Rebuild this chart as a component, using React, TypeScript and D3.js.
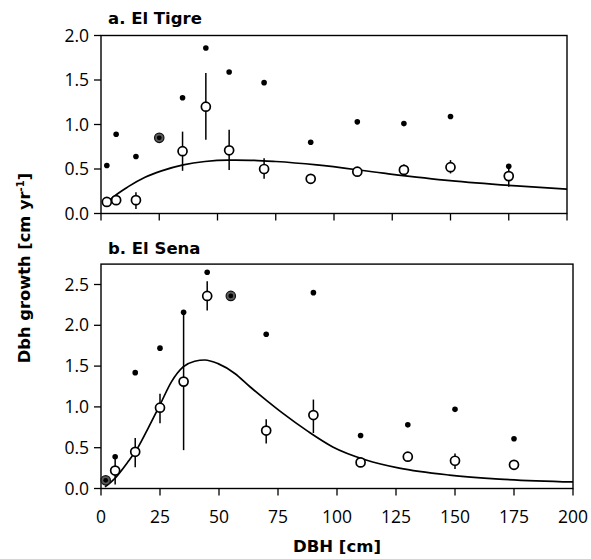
import React from "react";
import * as d3 from "d3";

// ---- Data ----
const dbhA = [2.5, 6.5, 15, 25, 35, 45, 55, 70, 90, 110, 130, 150, 175];
const meanA = [0.13, 0.15, 0.15, 0.85, 0.7, 1.2, 0.71, 0.5, 0.39, 0.47, 0.49, 0.52, 0.42];
const maxA = [0.54, 0.89, 0.64, 0.85, 1.3, 1.86, 1.59, 1.47, 0.8, 1.03, 1.01, 1.09, 0.53];
const errLoA = [0.09, 0.1, 0.05, null, 0.48, 0.83, 0.49, 0.39, null, null, 0.44, 0.45, 0.3];
const errHiA = [0.17, 0.19, 0.24, null, 0.92, 1.58, 0.94, 0.62, null, null, 0.55, 0.6, 0.5];
const curveAx = [2.5, 4.6, 11.7, 18.9, 26, 35.3, 44.6, 54.6, 64, 75, 92.6, 121.2, 149.8, 178.4, 200];
const curveAy = [0.12, 0.171, 0.302, 0.408, 0.479, 0.546, 0.584, 0.6, 0.598, 0.584, 0.546, 0.453, 0.37, 0.31, 0.273];

const dbhB = [2, 6, 14.5, 25, 35, 45, 55, 70, 90, 110, 130, 150, 175];
const meanB = [0.1, 0.22, 0.45, 0.99, 1.31, 2.36, 2.36, 0.71, 0.9, 0.32, 0.39, 0.34, 0.29];
const maxB = [0.1, 0.39, 1.42, 1.72, 2.16, 2.65, 2.36, 1.89, 2.4, 0.65, 0.78, 0.97, 0.61];
const errLoB = [null, 0.05, 0.26, 0.8, 0.47, 2.18, null, 0.55, 0.68, null, null, 0.24, null];
const errHiB = [null, 0.38, 0.62, 1.16, 2.16, 2.54, null, 0.85, 1.09, null, null, 0.43, null];
const curveBx = [1.7, 5.9, 11.5, 15.8, 20, 24.9, 29.9, 34.8, 39.7, 44, 49.6, 56.7, 63, 70.1, 77.1, 87.7, 98.2, 112.3, 126.4, 147.6, 168.7, 200];
const curveBy = [0.02, 0.125, 0.33, 0.51, 0.74, 1.02, 1.31, 1.49, 1.56, 1.575, 1.53, 1.41, 1.25, 1.08, 0.92, 0.7, 0.51, 0.35, 0.25, 0.165, 0.116, 0.08];

const xTicks = [0, 25, 50, 75, 100, 125, 150, 175, 200];
const yTicksA = [0, 0.5, 1.0, 1.5, 2.0];
const yTicksB = [0, 0.5, 1.0, 1.5, 2.0, 2.5];

const TICK_FONT = "'Open Sans', sans-serif";
const BOLD_FONT = "'DejaVu Sans', Verdana, sans-serif";

type PanelProps = {
  title: string;
  left: number;
  right: number;
  top: number;
  bottom: number;
  yMax: number;
  yTicks: number[];
  dbh: number[];
  mean: number[];
  max: number[];
  lo: (number | null)[];
  hi: (number | null)[];
  cx: number[];
  cy: number[];
  showXLabels: boolean;
  titleY: number;
};

function Panel(p: PanelProps) {
  const x = d3.scaleLinear().domain([0, 200]).range([p.left, p.right]);
  const y = d3.scaleLinear().domain([0, p.yMax]).range([p.bottom, p.top]);
  const line = d3
    .line<number>()
    .x((_, i) => x(p.cx[i]))
    .y((_, i) => y(p.cy[i]))
    .curve(d3.curveMonotoneX);
  const path = line(p.cx) || "";
  return (
    <g>
      <text x={p.left + 7} y={p.titleY} fontFamily={BOLD_FONT} fontWeight="bold" fontSize={16.5} fill="#000">
        {p.title}
      </text>
      <rect x={p.left} y={p.top} width={p.right - p.left} height={p.bottom - p.top} fill="none" stroke="#000" strokeWidth={1.4} />
      {p.yTicks.map((t) => (
        <g key={"y" + t}>
          <line x1={p.left - 7} x2={p.left} y1={y(t)} y2={y(t)} stroke="#000" strokeWidth={1.3} />
          <text x={p.left - 12} y={y(t)} dy="0.35em" textAnchor="end" fontFamily={TICK_FONT} fontSize={17.5} fill="#000">
            {t.toFixed(1)}
          </text>
        </g>
      ))}
      {xTicks.map((t) => (
        <g key={"x" + t}>
          <line x1={x(t)} x2={x(t)} y1={p.bottom} y2={p.bottom + 7} stroke="#000" strokeWidth={1.3} />
          {p.showXLabels && (
            <text x={x(t)} y={p.bottom + 34} textAnchor="middle" fontFamily={TICK_FONT} fontSize={17.5} fill="#000">
              {t}
            </text>
          )}
        </g>
      ))}
      <path d={path} fill="none" stroke="#000" strokeWidth={1.7} />
      {p.dbh.map((d, i) =>
        p.lo[i] != null && p.hi[i] != null ? (
          <line key={"e" + i} x1={x(d)} x2={x(d)} y1={y(p.lo[i] as number)} y2={y(p.hi[i] as number)} stroke="#000" strokeWidth={1.5} />
        ) : null
      )}
      {p.dbh.map((d, i) =>
        p.max[i] !== p.mean[i] ? <circle key={"m" + i} cx={x(d)} cy={y(p.max[i])} r={2.8} fill="#000" /> : null
      )}
      {p.dbh.map((d, i) =>
        p.max[i] !== p.mean[i] ? (
          <circle key={"o" + i} cx={x(d)} cy={y(p.mean[i])} r={4.5} fill="#fff" stroke="#000" strokeWidth={1.7} />
        ) : (
          <g key={"o" + i}>
            <circle cx={x(d)} cy={y(p.mean[i])} r={4.7} fill="#5a5a5a" stroke="#111" strokeWidth={1.2} />
            <circle cx={x(d)} cy={y(p.mean[i])} r={2.4} fill="#000" />
          </g>
        )
      )}
    </g>
  );
}

export default function App() {
  return (
    <svg width={591} height={559} style={{ position: "absolute", left: 0, top: 0, background: "#fff" }}>
      <rect width={591} height={559} fill="#fff" />
      <Panel
        title="a. El Tigre"
        left={101}
        right={567}
        top={35.5}
        bottom={213.5}
        yMax={2}
        yTicks={yTicksA}
        dbh={dbhA}
        mean={meanA}
        max={maxA}
        lo={errLoA}
        hi={errHiA}
        cx={curveAx}
        cy={curveAy}
        showXLabels={false}
        titleY={24}
      />
      <Panel
        title="b. El Sena"
        left={101}
        right={573}
        top={488.5 - 2.75 * 81.6}
        bottom={488.5}
        yMax={2.75}
        yTicks={yTicksB}
        dbh={dbhB}
        mean={meanB}
        max={maxB}
        lo={errLoB}
        hi={errHiB}
        cx={curveBx}
        cy={curveBy}
        showXLabels={true}
        titleY={254}
      />
      <text x={337} y={552} textAnchor="middle" fontFamily={BOLD_FONT} fontWeight="bold" fontSize={16.5} fill="#000">
        DBH [cm]
      </text>
      <text
        transform="translate(30,268) rotate(-90)"
        textAnchor="middle"
        fontFamily={BOLD_FONT}
        fontWeight="bold"
        fontSize={16.3}
        fill="#000"
      >
        Dbh growth [cm yr
        <tspan dy={-6} fontSize={10}>-1</tspan>
        <tspan dy={6}>]</tspan>
      </text>
    </svg>
  );
}
